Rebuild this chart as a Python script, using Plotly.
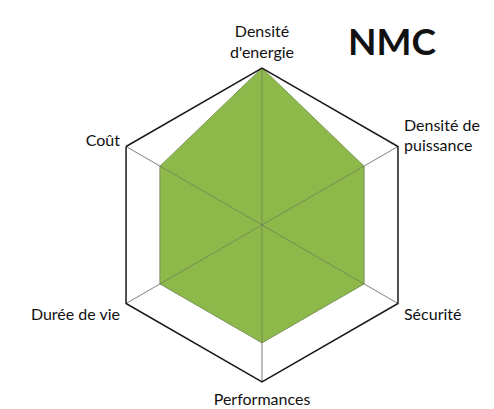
import plotly.graph_objects as go

# données du radar
criteres = ["Densité<br>d'energie", "Densité de<br>puissance", "Sécurité",
            "Performances", "Durée de vie", "Coût"]
notes_nmc = [4, 3, 3, 3, 3, 3]
echelle_max = 4

fig = go.Figure()

fig.add_trace(go.Scatterpolar(
    r=notes_nmc + notes_nmc[:1],
    theta=criteres + criteres[:1],
    fill="toself",
    fillcolor="#8db84a",
    line=dict(color="#7f9a58", width=1),
    mode="lines",
    hoverinfo="skip",
))

# rayons visibles par-dessus le remplissage
for c in criteres:
    fig.add_trace(go.Scatterpolar(
        r=[0, echelle_max], theta=[c, c], mode="lines",
        line=dict(color="rgba(90,90,90,0.45)", width=1),
        hoverinfo="skip",
    ))

fig.update_layout(
    width=486, height=401,
    margin=dict(l=0, r=0, t=0, b=0),
    paper_bgcolor="white",
    showlegend=False,
    polar=dict(
        domain=dict(x=[0.1996, 0.8457], y=[0.0673, 0.8504]),
        gridshape="linear",
        bgcolor="white",
        radialaxis=dict(
            range=[0, echelle_max], dtick=1, showticklabels=False, ticks="",
            showline=False, gridcolor="#a6a6a6", layer="below traces",
        ),
        angularaxis=dict(
            rotation=90, direction="clockwise",
            linecolor="#1a1a1a", linewidth=1.5,
            gridcolor="rgba(160,160,160,0.8)",
            ticks="outside", ticklen=3, tickcolor="rgba(0,0,0,0)",
            layer="above traces",
            tickfont=dict(family="Lato", size=16, color="#111111"),
        ),
    ),
)

# titre
fig.add_annotation(
    text="<b>NMC</b>", x=0.79, y=0.918, xref="paper", yref="paper",
    xanchor="center", yanchor="middle",
    showarrow=False, font=dict(family="Lato", size=37, color="#111111"),
)

fig.write_html("out.html")
